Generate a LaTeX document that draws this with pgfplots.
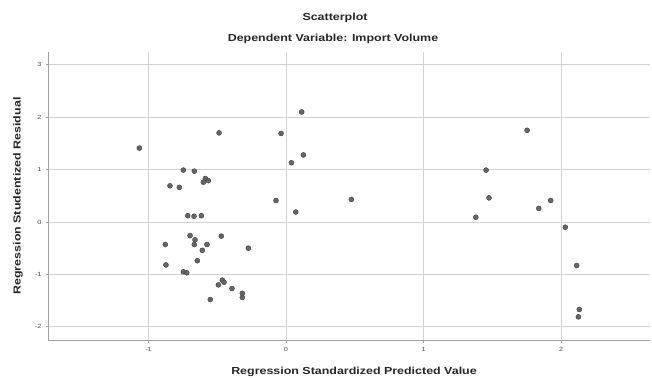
\documentclass[border=0pt]{standalone}
\usepackage{fontspec}
\setmainfont{Liberation Sans}
\newfontfamily\spss[FakeStretch=1.22]{Liberation Sans}
\usepackage{pgfplots}
\pgfplotsset{compat=1.18}
\definecolor{gridc}{HTML}{D2D2D2}
\definecolor{framec}{HTML}{A0A0A0}
\definecolor{markfill}{HTML}{666666}
\definecolor{markdraw}{HTML}{3C3C3C}
\pgfplotstableread{
x y
0.114 2.10
-0.487 1.70
-0.036 1.69
-1.067 1.41
0.126 1.28
0.039 1.13
-0.747 0.99
-0.667 0.97
-0.587 0.83
-0.565 0.79
-0.601 0.76
-0.844 0.69
-0.776 0.66
-0.073 0.41
0.071 0.19
-0.715 0.12
-0.669 0.11
-0.616 0.12
-0.698 -0.26
-0.471 -0.27
-0.662 -0.34
-0.667 -0.43
-0.878 -0.43
-0.575 -0.43
-0.609 -0.54
-0.274 -0.50
-0.645 -0.74
-0.873 -0.82
-0.747 -0.95
-0.722 -0.97
-0.463 -1.11
-0.451 -1.15
-0.492 -1.20
-0.393 -1.27
-0.318 -1.36
-0.318 -1.44
-0.551 -1.48
1.753 1.75
1.455 0.99
0.475 0.43
1.476 0.46
1.925 0.41
1.838 0.26
1.380 0.09
2.031 -0.10
2.114 -0.83
2.133 -1.67
2.126 -1.81
}\resid
\begin{document}
\begin{tikzpicture}[x=1pt,y=1pt]
\path[use as bounding box] (0,0) rectangle (652,377);
\begin{axis}[at={(48pt,37pt)}, anchor=south west, scale only axis,
  width=602pt, height=288pt,
  xmin=-1.731, xmax=2.647, ymin=-2.252, ymax=3.244,
  xtick={-1,0,1,2}, ytick={-2,-1,0,1,2,3},
  axis x line*=bottom, axis y line*=left,
  grid=major, major grid style={gridc, line width=0.8pt},
  axis line style={framec, line width=0.9pt, -},
  tick style={framec, line width=0.6pt}, tick align=outside, major tick length=2.5pt,
  ticklabel style={font=\spss\fontsize{6}{6}\selectfont, text=black!70},
  /pgf/number format/assume math mode=true,
  xticklabel style={yshift=-1pt},
  yticklabel style={xshift=-0.5pt},
]
\addplot[only marks, mark=*, mark size=2.5pt,
  mark options={fill=markfill, draw=markdraw, line width=0.4pt}] table[x=x,y=y] {\resid};
\end{axis}
\node[font=\spss\bfseries\fontsize{10.2}{12}\selectfont, text=black!85] at (335,359.3) {Scatterplot};
\node[font=\spss\bfseries\fontsize{10.2}{12}\selectfont, text=black!85] at (333,337.7) {Dependent Variable: Import Volume};
\node[font=\spss\bfseries\fontsize{10.2}{12}\selectfont, text=black!85] at (354,5.5) {Regression Standardized Predicted Value};
\node[font=\spss\bfseries\fontsize{10.2}{12}\selectfont, text=black!85, rotate=90] at (18,181) {Regression Studentized Residual};
\end{tikzpicture}
\end{document}
